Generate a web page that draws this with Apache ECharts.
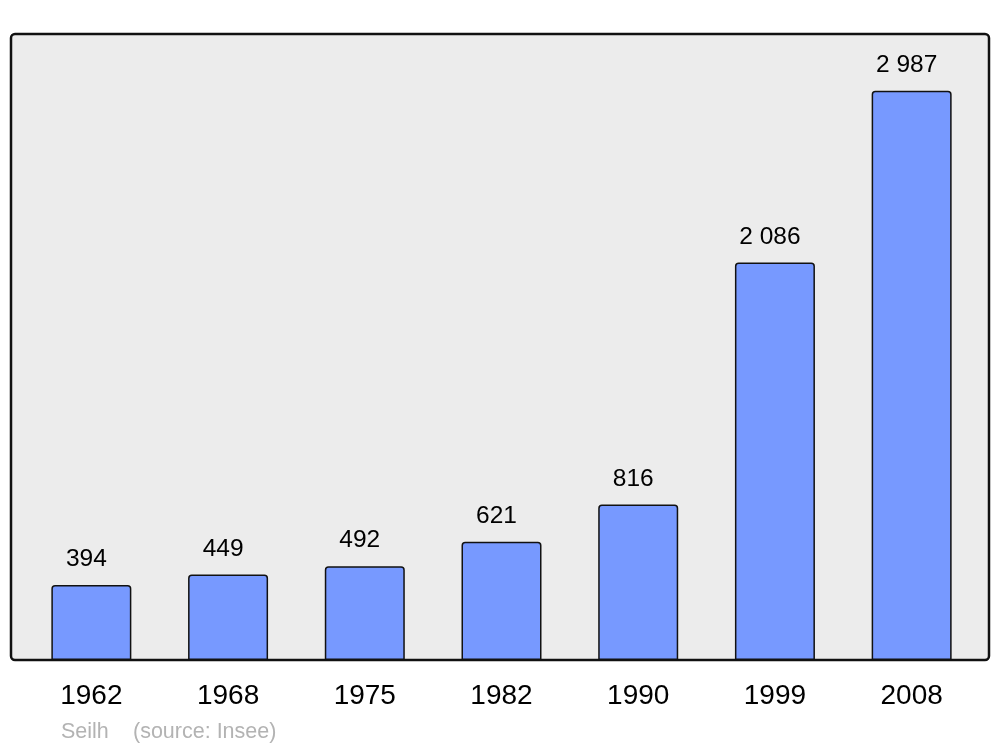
<!DOCTYPE html>
<html>
<head>
<meta charset="utf-8">
<script src="https://cdn.jsdelivr.net/npm/echarts@6/dist/echarts.min.js"></script>
<style>html,body{margin:0;padding:0;background:#fff}#c{width:1000px;height:747px}</style>
</head>
<body>
<div id="c"></div>
<script>
const years = ['1962','1968','1975','1982','1990','1999','2008'];
const population = [394, 449, 492, 621, 816, 2086, 2987];
const townName = 'Seilh';
const sourceText = '(source: Insee)';

const chart = echarts.init(document.getElementById('c'), null, {renderer: 'canvas'});
chart.setOption({
  animation: false,
  backgroundColor: '#ffffff',
  grid: {left: 23, right: 20, top: 34, bottom: 87},
  xAxis: {
    type: 'category',
    data: years,
    axisLine: {show: false},
    axisTick: {show: false},
    axisLabel: {color: '#000', fontSize: 28, fontFamily: 'Liberation Sans', margin: 22}
  },
  yAxis: {
    type: 'value', min: 0, max: 3285,
    show: false, splitLine: {show: false}
  },
  graphic: [
    {type: 'rect', z: -10, silent: true,
     shape: {x: 11, y: 34, width: 978, height: 626, r: 4},
     style: {fill: '#ececec', stroke: '#111', lineWidth: 2.5}},
    {type: 'text', left: 61, top: 721,
     style: {text: townName, fill: '#b3b3b3', font: '21.5px "Liberation Sans"'}},
    {type: 'text', left: 133, top: 721,
     style: {text: sourceText, fill: '#b3b3b3', font: '21.5px "Liberation Sans"'}}
  ],
  series: [{
    type: 'bar',
    data: population,
    barWidth: 80,
    itemStyle: {color: '#7799ff', borderColor: '#111', borderWidth: 1.5, borderRadius: [3,3,0,0]},
    label: {
      show: true, position: 'top', distance: 13, offset: [-5, 0],
      color: '#000', fontSize: 24.5, fontFamily: 'Liberation Sans',
      formatter: p => String(p.value).replace(/\B(?=(\d{3})+(?!\d))/g, ' ')
    }
  }]
});
</script>
</body>
</html>
